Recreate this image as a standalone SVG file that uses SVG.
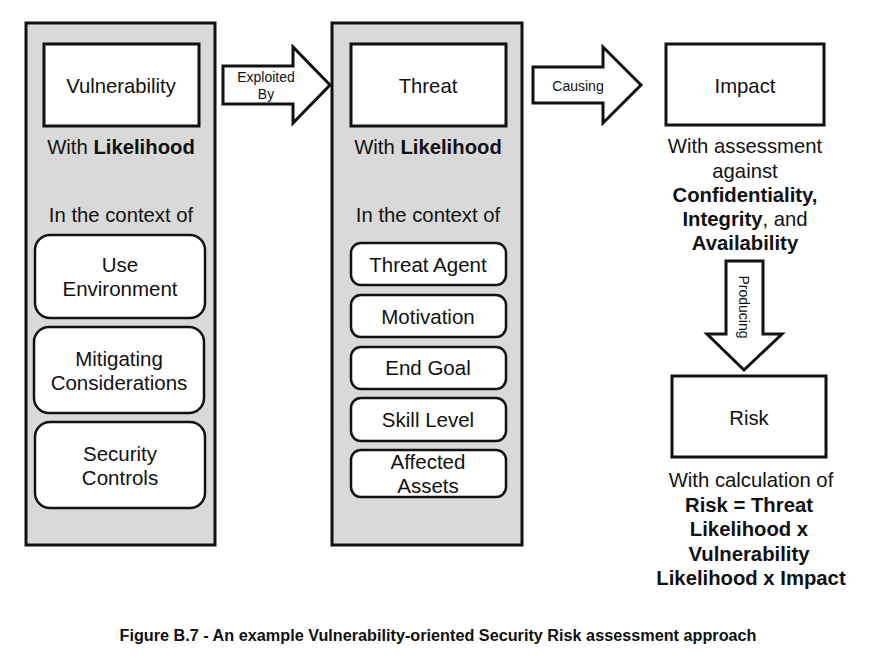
<svg xmlns="http://www.w3.org/2000/svg" width="877" height="668" viewBox="0 0 877 668">
  <style>
    text { font-family: "Liberation Sans", Arial, sans-serif; fill: #111; }
    .panel { fill: #d9d9d9; stroke: #111; stroke-width: 3; }
    .box { fill: #fff; stroke: #111; stroke-width: 3; }
    .item { fill: #fff; stroke: #111; stroke-width: 2.5; }
    .arrow { fill: #fff; stroke: #111; stroke-width: 3; stroke-linejoin: miter; }
    .t20 { font-size: 20.3px; text-anchor: middle; }
    .t19 { font-size: 20.5px; text-anchor: middle; }
    .lbl { font-size: 14px; text-anchor: middle; }
    .b { font-weight: bold; }
    .cap { font-size: 16px; font-weight: bold; text-anchor: middle; }
  </style>

  <!-- Vulnerability column -->
  <g id="vulnerability">
    <rect class="panel" x="26" y="23" width="189" height="522"/>
    <rect class="box" x="44" y="44" width="155" height="82"/>
    <text class="t20" x="121" y="93">Vulnerability</text>
    <text class="t20" x="121" y="154">With <tspan class="b">Likelihood</tspan></text>
    <text class="t20" x="121" y="222">In the context of</text>
  </g>
  <g id="use-environment">
    <rect class="item" x="35" y="235" width="170" height="83" rx="15"/>
    <text class="t19" x="120" y="272">Use</text>
    <text class="t19" x="120" y="296">Environment</text>
  </g>
  <g id="mitigating-considerations">
    <rect class="item" x="34" y="327" width="170" height="86" rx="15"/>
    <text class="t19" x="119" y="366">Mitigating</text>
    <text class="t19" x="119" y="390">Considerations</text>
  </g>
  <g id="security-controls">
    <rect class="item" x="35" y="422" width="170" height="86" rx="15"/>
    <text class="t19" x="120" y="461">Security</text>
    <text class="t19" x="120" y="485">Controls</text>
  </g>

  <!-- Threat column -->
  <g id="threat">
    <rect class="panel" x="332" y="23" width="190" height="522"/>
    <rect class="box" x="351" y="44" width="155" height="82"/>
    <text class="t20" x="428" y="93">Threat</text>
    <text class="t20" x="428" y="154">With <tspan class="b">Likelihood</tspan></text>
    <text class="t20" x="428" y="222">In the context of</text>
  </g>
  <g id="threat-agent">
    <rect class="item" x="351" y="243" width="155" height="42" rx="10"/>
    <text class="t19" x="428" y="272">Threat Agent</text>
  </g>
  <g id="motivation">
    <rect class="item" x="351" y="295" width="155" height="42" rx="10"/>
    <text class="t19" x="428" y="324">Motivation</text>
  </g>
  <g id="end-goal">
    <rect class="item" x="351" y="347" width="155" height="42" rx="10"/>
    <text class="t19" x="428" y="375">End Goal</text>
  </g>
  <g id="skill-level">
    <rect class="item" x="351" y="398" width="155" height="43" rx="10"/>
    <text class="t19" x="428" y="427">Skill Level</text>
  </g>
  <g id="affected-assets">
    <rect class="item" x="351" y="450" width="155" height="47" rx="10"/>
    <text class="t19" x="428" y="469">Affected</text>
    <text class="t19" x="428" y="493">Assets</text>
  </g>

  <!-- Impact -->
  <g id="impact">
    <rect class="box" x="666" y="44" width="158" height="81"/>
    <text class="t20" x="745" y="93">Impact</text>
    <text class="t20" x="745" y="153">With assessment</text>
    <text class="t20" x="745" y="178">against</text>
    <text class="t20 b" x="745" y="202">Confidentiality,</text>
    <text class="t20" x="745" y="226"><tspan class="b">Integrity</tspan>, and</text>
    <text class="t20 b" x="745" y="250">Availability</text>
  </g>

  <!-- Risk -->
  <g id="risk">
    <rect class="box" x="672" y="376" width="154" height="81"/>
    <text class="t20" x="749" y="425">Risk</text>
    <text class="t20" x="751" y="487">With calculation of</text>
    <text class="t20 b" x="749" y="512">Risk = Threat</text>
    <text class="t20 b" x="749" y="536">Likelihood x</text>
    <text class="t20 b" x="749" y="561">Vulnerability</text>
    <text class="t20 b" x="751" y="585">Likelihood x Impact</text>
  </g>

  <!-- Block arrows between stages -->
  <g id="connectors">
    <g id="exploited-by">
      <path class="arrow" d="M223,66 H293 V47 L330,85 L293,123 V104 H223 Z"/>
      <text class="lbl" x="266" y="82">Exploited</text>
      <text class="lbl" x="266" y="99">By</text>
    </g>
    <g id="causing">
      <path class="arrow" d="M533,67 H603 V47 L641,85 L603,123 V103 H533 Z"/>
      <text class="lbl" x="578" y="91">Causing</text>
    </g>
    <g id="producing">
      <path class="arrow" d="M726,261 H763 V334 H782 L744,370 L707,334 H726 Z"/>
      <text class="lbl" transform="translate(739,307) rotate(90)">Producing</text>
    </g>
  </g>

  <text class="cap" x="438" y="641" textLength="637" lengthAdjust="spacingAndGlyphs">Figure B.7 - An example Vulnerability-oriented Security Risk assessment approach</text>
</svg>
